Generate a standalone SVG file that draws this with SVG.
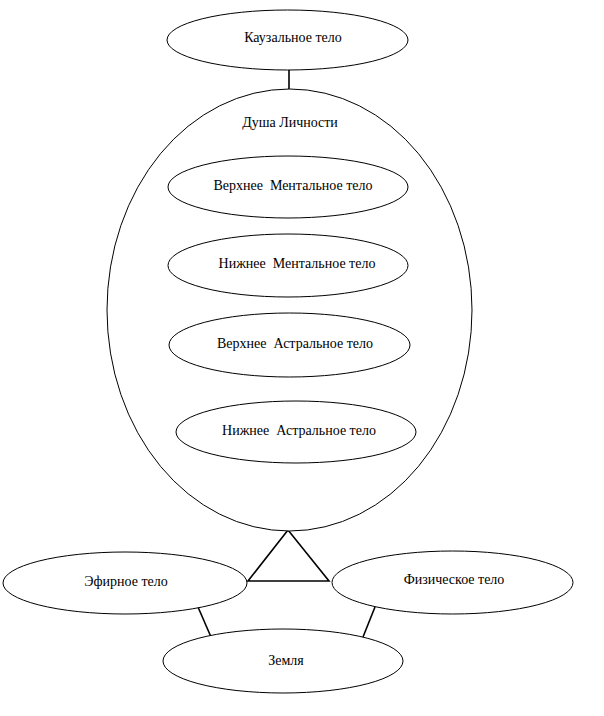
<svg xmlns="http://www.w3.org/2000/svg" width="604" height="716" viewBox="0 0 604 716">
<style>
.n{fill:#fff;stroke:#000;stroke-width:1}
.t{font-family:"Liberation Serif","Times New Roman",serif;font-size:14px;fill:#000;text-anchor:middle;dominant-baseline:central;white-space:pre}
.c{stroke:#000;stroke-width:1.6;fill:none}
</style>
<rect width="604" height="716" fill="#fff"/>
<g id="connectors">
<line class="c" x1="289" y1="70" x2="289" y2="89"/>
<line class="c" x1="289" y1="218" x2="289" y2="222"/>
<polygon class="c" points="288,530 248,581 329,581"/>
<line class="c" x1="198" y1="607" x2="211" y2="637"/>
<line class="c" x1="375" y1="607" x2="363" y2="637"/>
</g>
<g id="causal"><ellipse class="n" cx="287.5" cy="40" rx="120.5" ry="30"/><text class="t" x="293" y="37">Каузальное тело</text></g>
<g id="soul"><ellipse class="n" cx="289.5" cy="310" rx="182.5" ry="221"/><text class="t" x="290" y="122">Душа Личности</text></g>
<g id="upper-mental"><ellipse class="n" cx="288" cy="187" rx="120" ry="31"/><text class="t" x="293" y="185">Верхнее  Ментальное тело</text></g>
<g id="lower-mental"><ellipse class="n" cx="288" cy="265.5" rx="120" ry="31.5"/><text class="t" x="297" y="263">Нижнее  Ментальное тело</text></g>
<g id="upper-astral"><ellipse class="n" cx="289.5" cy="345" rx="120.5" ry="32"/><text class="t" x="295" y="343">Верхнее  Астральное тело</text></g>
<g id="lower-astral"><ellipse class="n" cx="296" cy="432" rx="120" ry="31"/><text class="t" x="299" y="430">Нижнее  Астральное тело</text></g>
<g id="etheric"><ellipse class="n" cx="125" cy="583" rx="122" ry="31"/><text class="t" x="126" y="581">Эфирное тело</text></g>
<g id="physical"><ellipse class="n" cx="452.5" cy="582.5" rx="120.5" ry="31.5"/><text class="t" x="454" y="579">Физическое тело</text></g>
<g id="earth"><ellipse class="n" cx="283" cy="661" rx="120" ry="32"/><text class="t" x="286" y="660">Земля</text></g>
</svg>
